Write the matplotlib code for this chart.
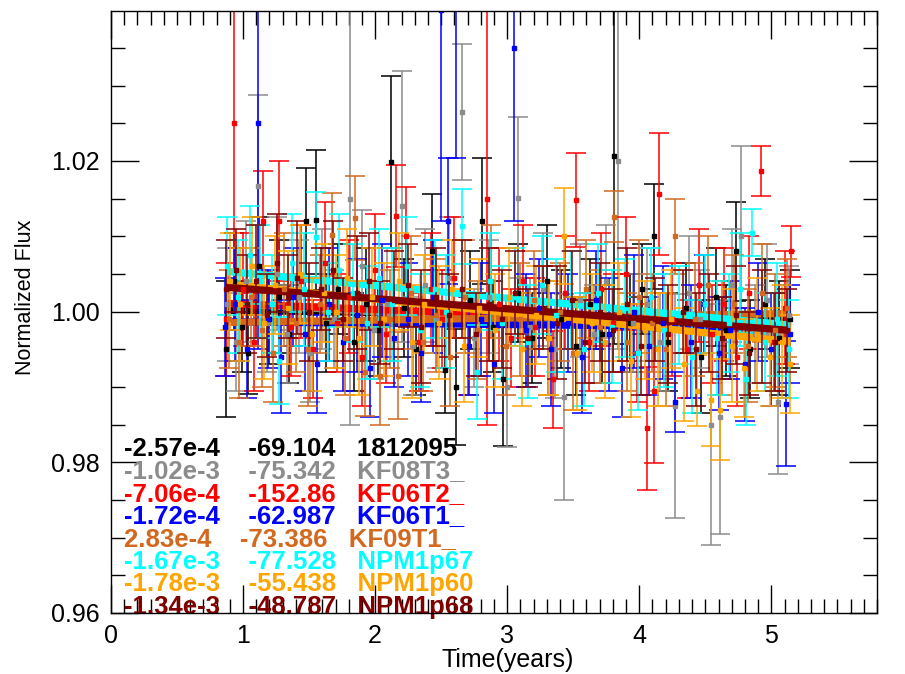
import matplotlib
matplotlib.use("Agg")
import matplotlib.pyplot as plt
from matplotlib.ticker import MultipleLocator, FixedLocator

plt.rcParams['font.family'] = ['Liberation Sans', 'DejaVu Sans']

# ---------------- data ----------------
names = ["1812095", "KF08T3_", "KF06T2_", "KF06T1_", "KF09T1_", "NPM1p67", "NPM1p60", "NPM1p68"]
colors = ["black", "#8c8c8c", "red", "blue", "#D2691E", "cyan", "orange", "#800000"]
slope_labels = ["-2.57e-4", "-1.02e-3", "-7.06e-4", "-1.72e-4", "2.83e-4", "-1.67e-3", "-1.78e-3", "-1.34e-3"]
second_labels = ["-69.104", "-75.342", "-152.86", "-62.987", "-73.386", "-77.528", "-55.438", "-48.787"]
slopes = [-2.57e-4, -1.02e-3, -7.06e-4, -1.72e-4, 2.83e-4, -1.67e-3, -1.78e-3, -1.34e-3]
line_intercepts = [1.0004, 1.0020, 1.0017, 0.9988, 0.9983, 1.0068, 1.0052, 1.0044]

t_black = [0.87, 0.93, 0.99, 1.04, 1.12, 1.2, 1.27, 1.35, 1.48, 1.55, 1.63, 1.72, 1.84, 1.93, 2.02, 2.12,
           2.22, 2.31, 2.43, 2.53, 2.61, 2.72, 2.81, 2.89, 2.97, 3.08, 3.19, 3.3, 3.41, 3.52, 3.63, 3.72,
           3.81, 3.93, 4.02, 4.11, 4.22, 4.35, 4.47, 4.58, 4.66, 4.73, 4.84, 4.95, 5.06, 5.14]
f_black = [0.9950, 1.0040, 0.9980, 0.9945, 1.0060, 0.9990, 1.0020, 0.9970, 1.0120, 1.0122, 0.9985, 1.0030,
           0.9960, 1.0010, 0.9975, 1.0199, 1.0005, 0.9950, 1.0080, 0.9923, 0.9900, 1.0015, 1.0120, 0.9980,
           0.9910, 1.0025, 0.9965, 1.0040, 0.9990, 0.9955, 1.0010, 0.9970, 1.0207, 0.9985, 1.0030, 1.0100,
           0.9960, 1.0005, 0.9940, 1.0020, 0.9975, 1.0080, 0.9950, 1.0010, 0.9965, 0.9990]
e_black = [0.009, 0.0065, 0.006, 0.0054, 0.0065, 0.006, 0.0075, 0.0065, 0.007, 0.0093, 0.0065, 0.006,
           0.0065, 0.0075, 0.006, 0.0114, 0.0065, 0.006, 0.0076, 0.0058, 0.0077, 0.0065, 0.0084, 0.006,
           0.0089, 0.0065, 0.006, 0.0075, 0.0065, 0.0065, 0.006, 0.0065, 0.025, 0.0065, 0.006, 0.007,
           0.0065, 0.006, 0.0075, 0.0065, 0.006, 0.0066, 0.0065, 0.006, 0.0075, 0.0065]

t_gray = [0.88, 0.95, 1.02, 1.11, 1.18, 1.26, 1.33, 1.42, 1.51, 1.6, 1.69, 1.81, 1.9, 1.99, 2.09, 2.2,
          2.29, 2.38, 2.47, 2.56, 2.66, 2.75, 2.86, 3.0, 3.08, 3.17, 3.27, 3.36, 3.43, 3.55, 3.66, 3.75,
          3.84, 3.95, 4.06, 4.16, 4.27, 4.38, 4.46, 4.54, 4.61, 4.7, 4.77, 4.88, 4.97, 5.05, 5.13]
f_gray = [1.0010, 0.9960, 1.0040, 1.0167, 0.9985, 1.0050, 0.9970, 1.0020, 0.9945, 1.0030, 0.9990, 1.0150,
          1.0060, 0.9975, 1.0010, 1.0140, 0.9955, 1.0035, 0.9990, 1.0045, 1.0265, 0.9965, 1.0020, 0.9900,
          1.0151, 0.9980, 1.0030, 0.9950, 0.9887, 1.0015, 0.9970, 1.0040, 1.0200, 0.9985, 1.0010, 0.9960,
          0.9875, 1.0025, 0.9990, 0.9850, 0.9860, 1.0035, 1.0100, 0.9970, 1.0015, 0.9880, 0.9995]
e_gray = [0.0075, 0.0065, 0.008, 0.012, 0.0065, 0.0075, 0.0065, 0.0075, 0.0065, 0.008, 0.0065, 0.030,
          0.0075, 0.0065, 0.0075, 0.018, 0.0065, 0.0075, 0.0065, 0.008, 0.0090, 0.0065, 0.0075, 0.008,
          0.0107, 0.0065, 0.0075, 0.0065, 0.0137, 0.0075, 0.0065, 0.0075, 0.025, 0.0065, 0.0075, 0.0065,
          0.0149, 0.0075, 0.0065, 0.0160, 0.0155, 0.0075, 0.012, 0.0065, 0.0075, 0.0096, 0.0065]

t_red = [0.87, 0.93, 1.0, 1.08, 1.15, 1.27, 1.36, 1.44, 1.53, 1.62, 1.71, 1.8, 1.9, 2.0, 2.08, 2.16,
         2.23, 2.33, 2.42, 2.51, 2.6, 2.7, 2.85, 2.94, 3.03, 3.12, 3.21, 3.35, 3.44, 3.52, 3.62, 3.71,
         3.8, 3.9, 3.98, 4.06, 4.11, 4.15, 4.25, 4.36, 4.45, 4.55, 4.64, 4.74, 4.83, 4.92, 5.02, 5.1, 5.15]
f_red = [0.9990, 1.0250, 1.0030, 0.9960, 1.0120, 1.0120, 0.9980, 1.0040, 0.9950, 1.0065, 0.9985, 1.0020,
         0.9940, 1.0055, 0.9970, 1.0127, 1.0100, 0.9960, 1.0030, 0.9990, 1.0045, 0.9955, 1.0150, 1.0010,
         0.9965, 1.0040, 0.9980, 0.9910, 1.0025, 1.0148, 0.9960, 1.0030, 0.9985, 1.0050, 0.9945, 0.9845,
         0.9894, 1.0156, 0.9990, 0.9950, 1.0035, 0.9970, 1.0010, 0.9940, 1.0025, 1.0187, 0.9960, 1.0005,
         1.0080]
e_red = [0.0075, 0.025, 0.0075, 0.0065, 0.0067, 0.008, 0.0065, 0.0075, 0.0065, 0.008, 0.0065, 0.0075,
         0.0065, 0.0075, 0.0065, 0.0068, 0.0066, 0.0065, 0.0075, 0.0065, 0.008, 0.0065, 0.030, 0.0075,
         0.0065, 0.0075, 0.0065, 0.0064, 0.0075, 0.0062, 0.0065, 0.0075, 0.0065, 0.0075, 0.0065, 0.0082,
         0.0095, 0.0081, 0.0075, 0.0065, 0.0075, 0.0065, 0.0075, 0.0065, 0.0075, 0.0033, 0.0065, 0.0075,
         0.0034]

t_blue = [0.86, 0.94, 1.03, 1.11, 1.19, 1.29, 1.38, 1.47, 1.56, 1.65, 1.76, 1.86, 1.96, 2.05, 2.14, 2.25,
          2.35, 2.44, 2.5, 2.55, 2.61, 2.71, 2.8, 2.9, 3.05, 3.14, 3.24, 3.33, 3.46, 3.57, 3.67, 3.77,
          3.87, 3.96, 4.07, 4.18, 4.27, 4.39, 4.49, 4.6, 4.69, 4.8, 4.9, 5.0, 5.11, 5.14]
f_blue = [0.9980, 1.0010, 0.9950, 1.0250, 0.9990, 0.9940, 1.0020, 0.9970, 0.9930, 1.0010, 0.9960, 0.9995,
          0.9925, 1.0015, 0.9965, 0.9990, 0.9945, 1.0020, 1.0400, 1.0120, 1.0460, 0.9955, 0.9990, 0.9930,
          1.0350, 0.9975, 1.0005, 0.9950, 0.9985, 0.9940, 1.0015, 0.9970, 0.9925, 1.0000, 0.9955, 0.9985,
          0.9880, 0.9960, 1.0010, 0.9945, 0.9975, 0.9930, 1.0000, 0.9950, 0.9878, 0.9970]
e_blue = [0.0065, 0.0075, 0.0065, 0.030, 0.0065, 0.0075, 0.0065, 0.0075, 0.0065, 0.0075, 0.0065, 0.0075,
          0.0065, 0.0075, 0.0065, 0.0075, 0.0065, 0.0075, 0.028, 0.0084, 0.0256, 0.0065, 0.0075, 0.0065,
          0.023, 0.0075, 0.0065, 0.0075, 0.0065, 0.0075, 0.0065, 0.0075, 0.0065, 0.0075, 0.0065, 0.0075,
          0.004, 0.0075, 0.0065, 0.0075, 0.0065, 0.0075, 0.0065, 0.0075, 0.0083, 0.0065]

t_choc = [0.89, 0.97, 1.06, 1.14, 1.23, 1.31, 1.4, 1.49, 1.58, 1.67, 1.77, 1.85, 1.92, 2.04, 2.11, 2.17,
          2.27, 2.36, 2.46, 2.57, 2.68, 2.78, 2.88, 2.99, 3.1, 3.2, 3.31, 3.4, 3.5, 3.6, 3.7, 3.81, 3.91,
          4.0, 4.1, 4.2, 4.27, 4.42, 4.52, 4.63, 4.72, 4.82, 4.93, 5.03, 5.12]
f_choc = [0.9990, 0.9960, 1.0020, 0.9975, 0.9945, 1.0030, 0.9985, 0.9950, 1.0010, 1.0102, 0.9965, 1.0124,
          0.9920, 0.9914, 0.9990, 0.9915, 1.0025, 0.9960, 0.9995, 0.9940, 1.0020, 0.9975, 1.0040, 0.9955,
          0.9990, 1.0015, 0.9965, 1.0000, 0.9945, 1.0030, 0.9980, 1.0126, 0.9960, 1.0020, 0.9985, 0.9950,
          1.0100, 0.9990, 1.0035, 0.9965, 1.0010, 0.9955, 1.0025, 0.9975, 1.0005]
e_choc = [0.0065, 0.0075, 0.0065, 0.0075, 0.0065, 0.0075, 0.0065, 0.0075, 0.0065, 0.0055, 0.0075, 0.0056,
          0.0058, 0.0065, 0.0065, 0.0058, 0.0075, 0.0065, 0.0075, 0.0065, 0.0075, 0.0065, 0.0075, 0.0065,
          0.0075, 0.0065, 0.0075, 0.0065, 0.0075, 0.0065, 0.0075, 0.0034, 0.0065, 0.0075, 0.0065, 0.0075,
          0.0050, 0.0075, 0.0065, 0.0075, 0.0065, 0.0075, 0.0065, 0.0075, 0.0065]

t_cyan = [0.88, 0.96, 1.05, 1.13, 1.22, 1.27, 1.37, 1.46, 1.55, 1.64, 1.73, 1.83, 1.94, 2.03, 2.13, 2.24,
          2.34, 2.45, 2.54, 2.66, 2.77, 2.87, 2.96, 3.06, 3.16, 3.26, 3.37, 3.48, 3.58, 3.69, 3.79, 3.89,
          3.99, 4.09, 4.19, 4.3, 4.4, 4.5, 4.59, 4.68, 4.76, 4.81, 4.85, 4.95, 5.04, 5.13]
f_cyan = [1.0060, 1.0020, 1.0075, 1.0040, 1.0010, 0.9935, 1.0065, 1.0030, 1.0099, 1.0000, 1.0055, 1.0025,
          0.9985, 1.0045, 1.0010, 1.0060, 0.9975, 1.0030, 1.0000, 1.0113, 0.9920, 1.0040, 0.9985, 1.0020,
          0.9960, 1.0035, 0.9995, 1.0015, 0.9950, 1.0025, 0.9980, 1.0005, 0.9945, 1.0020, 0.9975, 0.9995,
          0.9940, 1.0010, 0.9965, 0.9985, 1.0030, 0.9910, 1.0105, 0.9960, 0.9990, 0.9950]
e_cyan = [0.0065, 0.0075, 0.0065, 0.0075, 0.0065, 0.0058, 0.0065, 0.0075, 0.006, 0.0065, 0.0075, 0.0065,
          0.0075, 0.0065, 0.0075, 0.0065, 0.0075, 0.0065, 0.0075, 0.005, 0.0062, 0.0065, 0.0075, 0.0065,
          0.0075, 0.0065, 0.0075, 0.0065, 0.0075, 0.0065, 0.0075, 0.0065, 0.0075, 0.0065, 0.0075, 0.0065,
          0.0075, 0.0065, 0.0075, 0.0065, 0.0075, 0.0061, 0.0031, 0.0065, 0.0075, 0.0065]

t_orange = [0.9, 0.98, 1.07, 1.16, 1.24, 1.34, 1.43, 1.52, 1.61, 1.7, 1.79, 1.88, 1.98, 2.07, 2.18, 2.28,
            2.37, 2.48, 2.58, 2.67, 2.79, 2.91, 3.01, 3.11, 3.22, 3.32, 3.43, 3.53, 3.64, 3.74, 3.85, 3.94,
            4.04, 4.14, 4.24, 4.34, 4.44, 4.54, 4.61, 4.7, 4.79, 4.89, 4.99, 5.08, 5.14]
f_orange = [1.0040, 1.0010, 1.0060, 0.9985, 1.0035, 1.0005, 1.0050, 0.9970, 1.0025, 1.0000, 1.0045, 0.9965,
            1.0020, 0.9990, 1.0040, 0.9960, 1.0010, 0.9985, 1.0030, 0.9955, 1.0005, 0.9975, 1.0020, 0.9950,
            0.9995, 0.9965, 1.0100, 0.9945, 0.9985, 0.9960, 1.0000, 0.9935, 0.9975, 0.9950, 0.9990, 0.9930,
            0.9895, 0.9883, 0.9870, 0.9955, 0.9925, 0.9970, 0.9940, 0.9960, 0.9930]
e_orange = [0.0065, 0.0075, 0.0065, 0.0075, 0.0065, 0.0075, 0.0065, 0.0075, 0.0065, 0.0075, 0.0065, 0.0075,
            0.0065, 0.0075, 0.0065, 0.0075, 0.0065, 0.0075, 0.0065, 0.0075, 0.0065, 0.0075, 0.0065, 0.0075,
            0.0065, 0.0075, 0.0064, 0.0075, 0.0065, 0.0075, 0.0065, 0.0075, 0.0065, 0.0075, 0.0065, 0.0075,
            0.0047, 0.0062, 0.0067, 0.0075, 0.0065, 0.0075, 0.0065, 0.0075, 0.0065]

t_dred = [0.87, 0.95, 1.03, 1.1, 1.18, 1.26, 1.34, 1.41, 1.5, 1.59, 1.68, 1.76, 1.86, 1.95, 2.04, 2.14,
          2.25, 2.35, 2.46, 2.56, 2.66, 2.76, 2.86, 2.96, 3.06, 3.16, 3.27, 3.38, 3.49, 3.59, 3.7, 3.8,
          3.91, 4.01, 4.12, 4.22, 4.33, 4.43, 4.53, 4.63, 4.73, 4.83, 4.93, 5.03, 5.12]
f_dred = [1.0030, 1.0055, 1.0010, 1.0040, 0.9995, 1.0065, 1.0020, 1.0045, 1.0000, 1.0030, 1.0055, 0.9990,
          1.0025, 1.0040, 0.9985, 1.0015, 1.0035, 0.9980, 1.0020, 0.9995, 1.0030, 0.9970, 1.0010, 0.9990,
          1.0025, 0.9965, 1.0005, 0.9985, 1.0015, 0.9960, 1.0000, 0.9975, 1.0010, 0.9955, 0.9990, 0.9970,
          1.0000, 0.9950, 0.9985, 0.9965, 0.9995, 0.9945, 0.9980, 0.9960, 0.9975]
e_dred = [0.0065, 0.0055, 0.0065, 0.0075, 0.0055, 0.0065, 0.0055, 0.0075, 0.0065, 0.0055, 0.0065, 0.0055,
          0.0075, 0.0065, 0.0055, 0.0065, 0.0055, 0.0075, 0.0065, 0.0055, 0.0065, 0.0055, 0.0075, 0.0065,
          0.0055, 0.0065, 0.0055, 0.0075, 0.0065, 0.0055, 0.0065, 0.0055, 0.0075, 0.0065, 0.0055, 0.0065,
          0.0055, 0.0075, 0.0065, 0.0055, 0.0065, 0.0055, 0.0075, 0.0065, 0.0055]

times = [t_black, t_gray, t_red, t_blue, t_choc, t_cyan, t_orange, t_dred]
fluxes = [f_black, f_gray, f_red, f_blue, f_choc, f_cyan, f_orange, f_dred]
errors = [e_black, e_gray, e_red, e_blue, e_choc, e_cyan, e_orange, e_dred]

# ---------------- figure ----------------
fig = plt.figure(figsize=(9.05, 6.74), dpi=100)
ax = fig.add_axes([111 / 905, 61 / 674, 766 / 905, 602 / 674])

for t, f, e, c, b, a in zip(times, fluxes, errors, colors, slopes, line_intercepts):
    ax.errorbar(t, f, yerr=e, fmt='s', ms=2.8, color=c, ecolor=c, mec=c, mfc=c,
                elinewidth=1.1, capsize=7, capthick=1.1, zorder=2)
    ax.plot([t[0], t[-1]], [a + b * t[0], a + b * t[-1]], color=c, lw=5.2,
            solid_capstyle='butt', zorder=2)

for i, (s1, s2, nm, c) in enumerate(zip(slope_labels, second_labels, names, colors)):
    ax.text(0.098, 0.9809 - 0.003 * i, s1 + "    " + s2 + "   " + nm, color=c,
            fontsize=18.5, fontweight='bold', ha='left', va='baseline', zorder=2.2)

ax.set_xlim(0, 5.8)
ax.set_ylim(0.96, 1.0399)
ax.xaxis.set_major_locator(FixedLocator([0, 1, 2, 3, 4, 5]))
ax.xaxis.set_minor_locator(MultipleLocator(0.1))
ax.yaxis.set_major_locator(FixedLocator([0.96, 0.98, 1.00, 1.02]))
ax.yaxis.set_minor_locator(MultipleLocator(0.005))
ax.set_yticklabels(["0.96", "0.98", "1.00", "1.02"])
ax.tick_params(which='both', direction='in', top=True, right=True, width=1.0,
               labelsize=18, colors='black')
ax.tick_params(which='major', length=20, pad=8)
ax.tick_params(which='minor', length=10)
for sp in ax.spines.values():
    sp.set_linewidth(1.0)

ax.set_xlabel("Time(years)", fontsize=18)
ax.xaxis.set_label_coords(0.518, -0.058)
ax.set_ylabel("Normalized Flux", fontsize=15.5)
ax.yaxis.set_label_coords(-0.098, 0.525)

fig.savefig("out.png", dpi=100)
